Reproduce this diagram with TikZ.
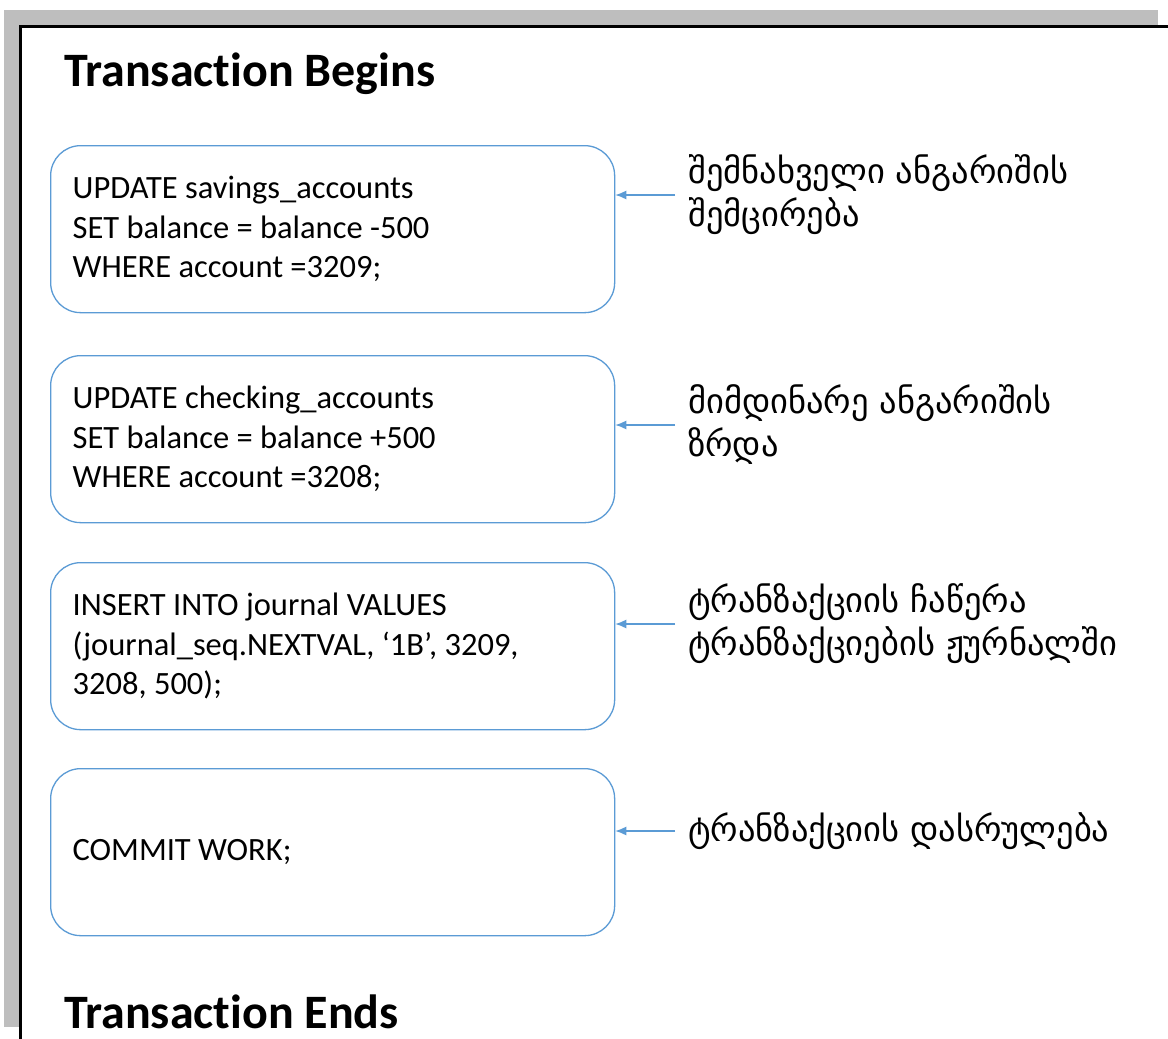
\documentclass[tikz,border=0pt]{standalone}
\usepackage{fontspec}
\setmainfont[Ligatures=NoCommon]{Carlito}
\newfontfamily\geo{DejaVu Sans}
\usetikzlibrary{arrows.meta}
\definecolor{boxblue}{HTML}{5B9BD5}
\definecolor{framegray}{HTML}{BEBEBE}
\tikzset{
  sqlbox/.style={draw=boxblue, line width=1.3pt, rounded corners=30pt, fill=white,
    minimum width=564pt, minimum height=167pt, text width=520pt, align=flush left,
    inner xsep=22pt, anchor=north west, font=\fontsize{32.5}{39.5}\selectfont},
  geolabel/.style={anchor=west, inner sep=0pt, align=left,
    font=\geo\fontsize{34.5}{43}\selectfont},
  title/.style={anchor=west, inner sep=0pt, font=\bfseries\fontsize{48}{54}\selectfont},
  arr/.style={draw=boxblue, line width=1.3pt, -{Latex[length=11pt,width=9pt]}}
}
\begin{document}
\begin{tikzpicture}[x=1pt,y=-1pt]
\useasboundingbox (0,0) rectangle (1168,1039);
\fill[white] (0,0) rectangle (1168,1039);
% frame
\fill[framegray] (4,10) rectangle (1158,25);
\fill[framegray] (4,10) rectangle (19,1027);
\draw[line width=3pt] (19,26.5) -- (1168,26.5);
\draw[line width=3pt] (20.5,25) -- (20.5,1039);
% titles
\node[title] (tb) at (64,74) {Transaction Begins};
\node[title] (te) at (64,1012) {Transaction Ends};
% boxes
\node[sqlbox] (b1) at (50,145) {UPDATE savings\_accounts\\SET balance = balance -500\\WHERE account =3209;};
\node[sqlbox] (b2) at (50,355) {UPDATE checking\_accounts\\SET balance = balance +500\\WHERE account =3208;};
\node[sqlbox] (b3) at (50,562) {INSERT INTO journal VALUES\\(journal\_seq.NEXTVAL, ‘1B’, 3209,\\3208, 500);};
\node[sqlbox] (b4) at (50,768) {COMMIT WORK;};
% labels
\node[geolabel] (l1) at (688,195) {შემნახველი ანგარიშის\\შემცირება};
\node[geolabel] (l2) at (688,425) {მიმდინარე ანგარიშის\\ზრდა};
\node[geolabel] (l3) at (688,624) {ტრანზაქციის ჩაწერა\\ტრანზაქციების ჟურნალში};
\node[geolabel] (l4) at (688,831) {ტრანზაქციის დასრულება};
% arrows
\foreach \i in {1,2,3,4}{
  \draw[arr] ([xshift=-13pt]l\i.west) -- (l\i.west -| b\i.east);
}
\end{tikzpicture}
\end{document}
